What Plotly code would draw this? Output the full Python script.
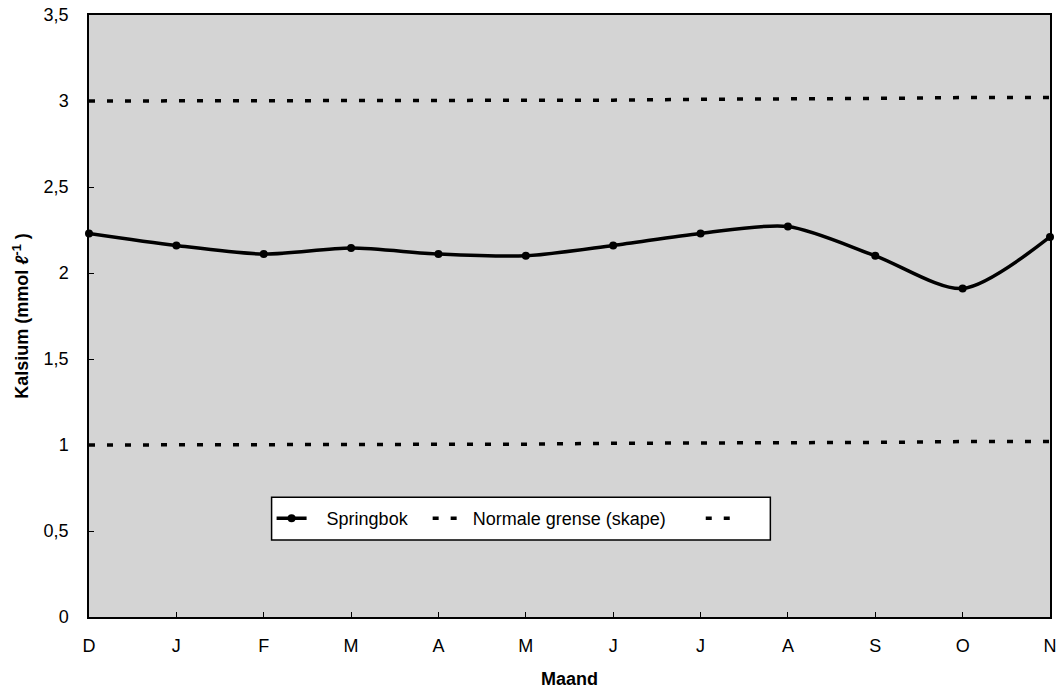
import plotly.graph_objects as go

months = ["D", "J", "F", "M", "A", "M", "J", "J", "A", "S", "O", "N"]
springbok = [2.23, 2.16, 2.11, 2.145, 2.11, 2.10, 2.16, 2.23, 2.27, 2.10, 1.91, 2.21]
upper_limit = [3.0, 3.0, 3.0, 3.0, 3.0, 3.005, 3.005, 3.01, 3.01, 3.015, 3.02, 3.02]
lower_limit = [1.0, 1.0, 1.0, 1.0, 1.005, 1.005, 1.01, 1.01, 1.015, 1.015, 1.02, 1.02]
y_ticks = [0, 0.5, 1, 1.5, 2, 2.5, 3, 3.5]

x = list(range(len(months)))
font = "Liberation Sans, Arial, sans-serif"
dash = "6px,12px"
nb = "\u00a0"

fig = go.Figure()
fig.add_trace(go.Scatter(
    x=x, y=springbok, name=nb * 3 + "Springbok" + nb * 3, mode="lines+markers",
    line=dict(color="black", width=3.5, shape="spline", smoothing=0.8),
    marker=dict(color="black", size=8), cliponaxis=False))
fig.add_trace(go.Scatter(
    x=x, y=upper_limit, name=nb + "Normale grense (skape)" + nb * 6, mode="lines",
    line=dict(color="black", width=3.5, dash=dash)))
fig.add_trace(go.Scatter(
    x=x, y=lower_limit, name=nb, mode="lines",
    line=dict(color="black", width=3.5, dash=dash)))

# legend frame (decoration)
fig.add_shape(type="rect", xref="paper", yref="paper",
              x0=0.19, x1=0.709, y0=0.128, y1=0.199,
              line=dict(color="black", width=1.5), fillcolor="white", layer="below")

fig.update_layout(
    width=1062, height=689,
    margin=dict(l=89, r=12, t=15, b=72, autoexpand=False),
    paper_bgcolor="white", plot_bgcolor="#d4d4d4",
    separators=",.",
    font=dict(family=font, size=18, color="black"),
    showlegend=True,
    legend=dict(orientation="h", x=0.19, y=0.1635, xanchor="left", yanchor="middle",
                bgcolor="rgba(0,0,0,0)", borderwidth=0,
                font=dict(size=18, family=font)),
)
fig.update_xaxes(
    range=[0, 11], tickmode="array", tickvals=x, ticktext=months,
    ticks="inside", ticklen=5, tickcolor="black", showgrid=False, zeroline=False,
    showline=True, linecolor="black", linewidth=1.5, mirror=True,
    ticklabelstandoff=12, automargin=False,
    title=dict(text="<b>Maand</b>", font=dict(size=18), standoff=18),
)
fig.update_yaxes(
    range=[0, 3.5], tickmode="array", tickvals=y_ticks,
    ticks="inside", ticklen=5, tickcolor="black", showgrid=False, zeroline=False,
    showline=True, linecolor="black", linewidth=1.5, mirror=True,
    ticklabelstandoff=15, automargin=False,
    title=dict(text="<b>Kalsium (mmol <i>ℓ</i><sup>-1</sup> )</b>", font=dict(size=18), standoff=10),
)

fig.write_html("out.html", config={"displayModeBar": False},
               post_script="document.body.style.margin='0';window.dispatchEvent(new Event('resize'));")
